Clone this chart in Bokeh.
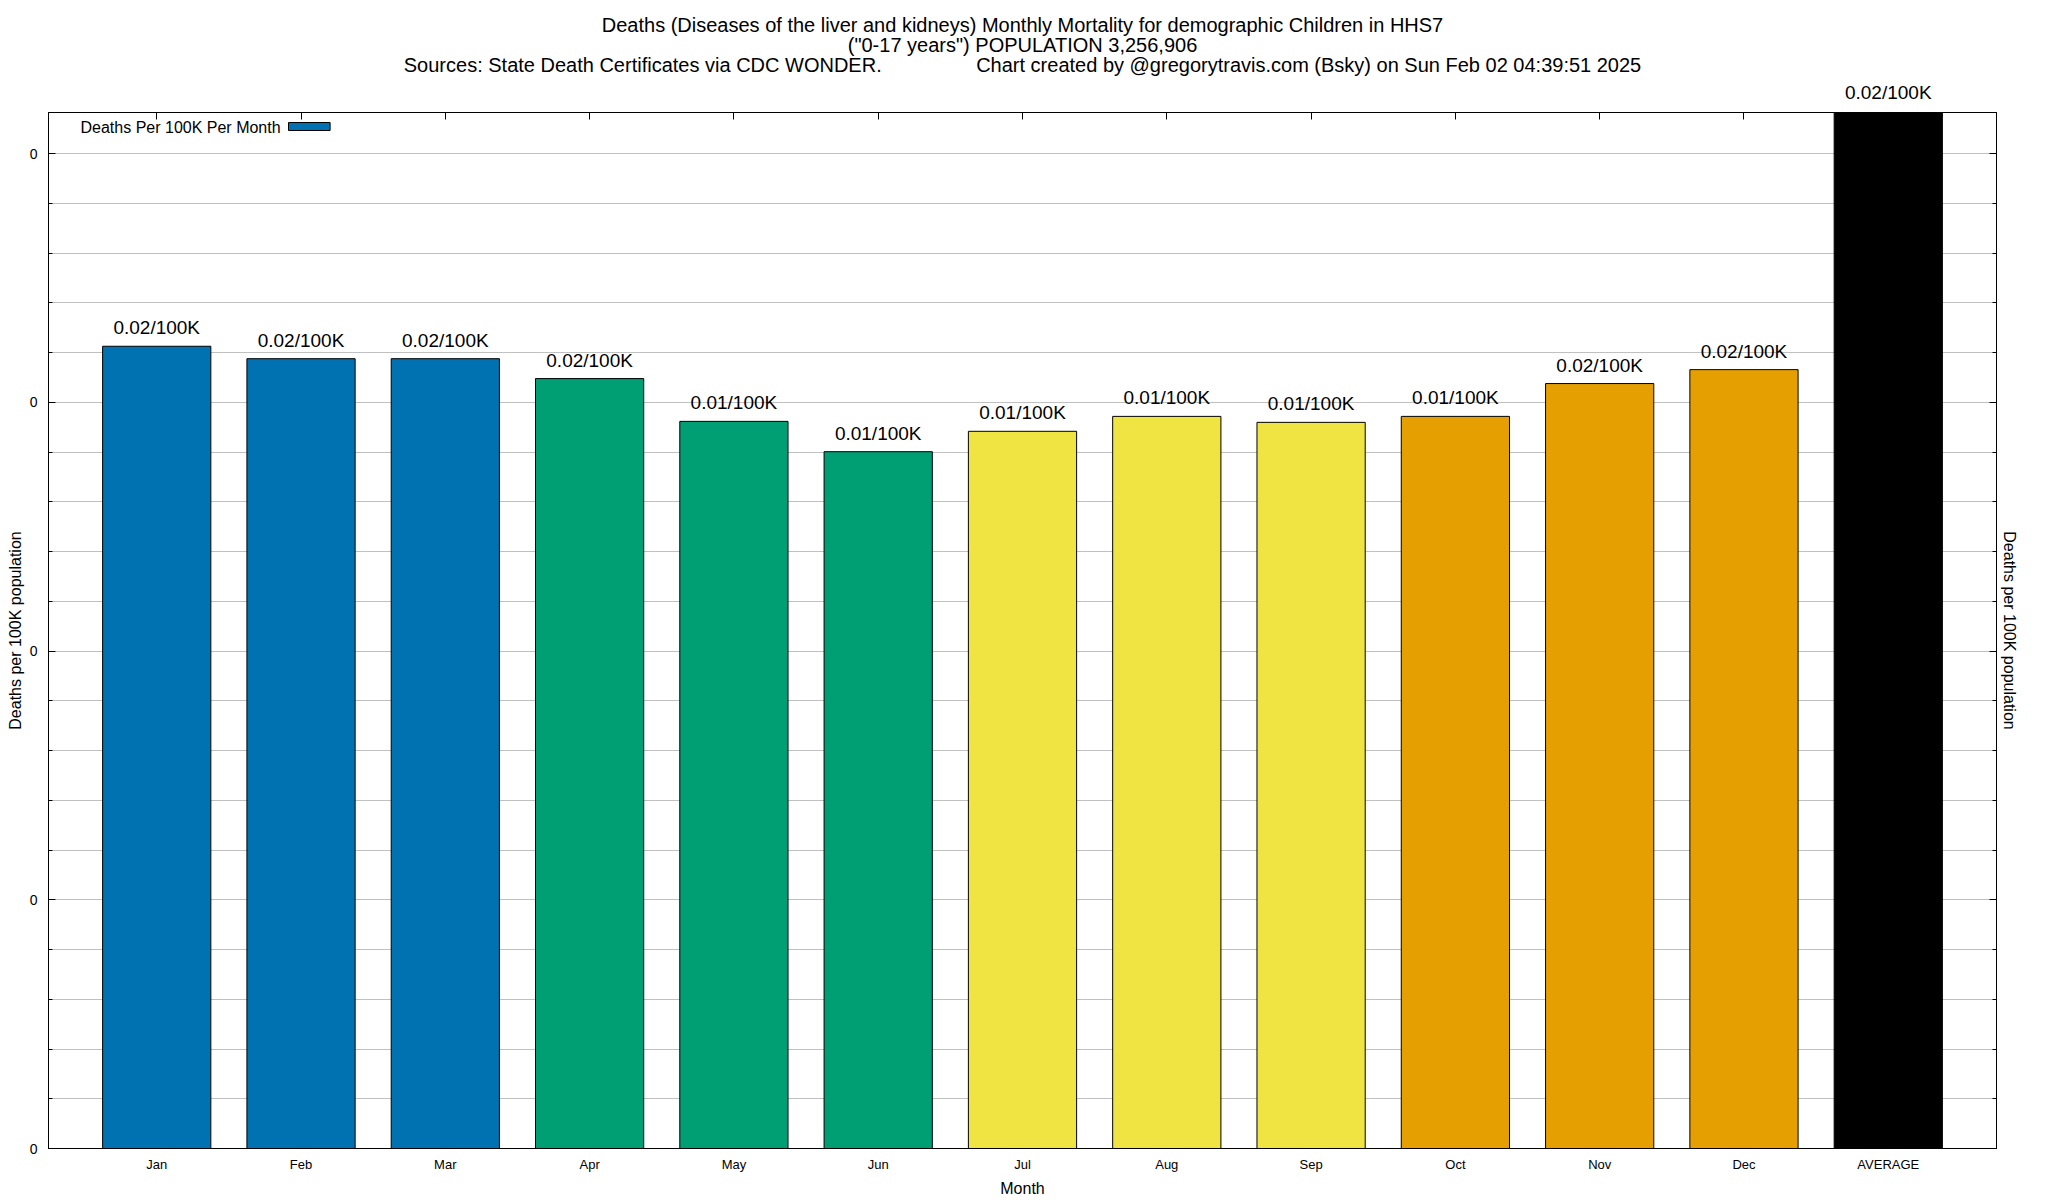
from bokeh.plotting import figure
from bokeh.models import (ColumnDataSource, Range1d, FixedTicker, SingleIntervalTicker,
                          LinearAxis, Title, LabelSet, Label, BoxAnnotation,
                          PrintfTickFormatter, CustomLabelingPolicy)
from bokeh.embed import file_html
from bokeh.resources import INLINE
from bokeh.core.properties import value

# ---------------- data ----------------
title_lines = [
    "Deaths (Diseases of the liver and kidneys) Monthly Mortality for demographic Children in HHS7",
    '("0-17 years") POPULATION 3,256,906',
    "Sources: State Death Certificates via CDC WONDER." + "\u00a0" * 17
    + "Chart created by @gregorytravis.com (Bsky) on Sun Feb 02 04:39:51 2025",
]
months = ["Jan", "Feb", "Mar", "Apr", "May", "Jun", "Jul", "Aug", "Sep", "Oct", "Nov", "Dec", "AVERAGE"]
rates = [0.01613, 0.01588, 0.01588, 0.01548, 0.01462, 0.01401, 0.01442,
         0.01472, 0.01460, 0.01472, 0.01538, 0.01566, 0.02083]
legend_label = "Deaths Per 100K Per Month"
y_label = "Deaths per 100K population"
x_label = "Month"

# ---------------- styles / layout ----------------
FONT = "Liberation Sans"
bar_colors = ["#0072B2"] * 3 + ["#009E73"] * 3 + ["#F0E442"] * 3 + ["#E69F00"] * 3 + ["#000000"]
grid_color = "#c0c0c0"
FRAME_W, FRAME_H = 1948, 1036
X_START, X_END = -0.75, len(months) - 0.25

xs = list(range(len(months)))
value_labels = [f"{r:.2f}/100K" for r in rates]
src = ColumnDataSource(dict(x=xs, rate=rates, color=bar_colors))
month_src = ColumnDataSource(dict(x=xs[:-1], rate=rates[:-1], label=value_labels[:-1]))

p = figure(frame_width=FRAME_W, frame_height=FRAME_H,
           x_range=Range1d(X_START, X_END),
           y_range=Range1d(0, max(rates)),
           output_backend="svg", toolbar_location=None, title_location=None,
           min_border_left=48, min_border_right=52, min_border_top=112, min_border_bottom=52,
           background_fill_color="white", border_fill_color="white")
p.outline_line_color = "black"
p.outline_line_width = 1

# grid
p.xgrid.visible = False
p.ygrid.grid_line_color = grid_color
p.ygrid.minor_grid_line_color = grid_color

# bars
p.vbar(x="x", top="rate", bottom=0, width=0.75, source=src,
       fill_color="color", line_color="black", line_width=1)

# value labels on the monthly bars
p.add_layout(LabelSet(x="x", y="rate", text="label", source=month_src, y_offset=12,
                      text_align="center", text_baseline="alphabetic",
                      text_font=value(FONT), text_font_size="19px", text_color="black"))

no_labels = CustomLabelingPolicy(code="return new Set()")

# bottom axis
xa = p.xaxis[0]
xa.ticker = FixedTicker(ticks=xs)
xa.major_label_overrides = {i: m for i, m in zip(xs, months)}
xa.major_tick_in = 0
xa.major_tick_out = 0
xa.minor_tick_in = 0
xa.minor_tick_out = 0
xa.major_label_standoff = 8
xa.axis_label = x_label
xa.axis_label_standoff = 5
xa.major_label_text_font = FONT
xa.major_label_text_font_size = "13px"
xa.major_label_text_color = "black"
xa.axis_label_text_font = FONT
xa.axis_label_text_font_size = "16px"
xa.axis_label_text_font_style = "normal"
xa.axis_label_text_color = "black"
xa.axis_line_color = "black"

# left axis
ya = p.yaxis[0]
ya.ticker = SingleIntervalTicker(interval=0.005, num_minor_ticks=5)
ya.formatter = PrintfTickFormatter(format="%.0f")
ya.major_tick_in = 7
ya.major_tick_out = 0
ya.minor_tick_in = 4
ya.minor_tick_out = 0
ya.major_label_standoff = 11
ya.axis_label = y_label
ya.axis_label_standoff = 3
ya.major_label_text_font = FONT
ya.major_label_text_font_size = "14px"
ya.major_label_text_color = "black"
ya.axis_label_text_font = FONT
ya.axis_label_text_font_size = "16px"
ya.axis_label_text_font_style = "normal"
ya.axis_label_text_color = "black"
ya.axis_line_color = "black"

# right axis (mirror ticks + title)
ra = LinearAxis(ticker=SingleIntervalTicker(interval=0.005, num_minor_ticks=5),
                major_tick_in=7, major_tick_out=0, minor_tick_in=4, minor_tick_out=0,
                major_label_text_font_size="0px", major_label_standoff=0,
                major_label_policy=no_labels, axis_line_color="black",
                axis_label=y_label, axis_label_standoff=4, axis_label_text_font=FONT,
                axis_label_text_font_size="16px", axis_label_text_font_style="normal",
                axis_label_text_color="black")
p.add_layout(ra, "right")

# top axis (mirror ticks only)
ta = LinearAxis(ticker=FixedTicker(ticks=xs), major_tick_in=7, major_tick_out=0,
                minor_tick_in=0, minor_tick_out=0, major_label_text_font_size="0px",
                major_label_standoff=0, major_label_policy=no_labels,
                axis_line_color="black")
p.add_layout(ta, "above")

# AVERAGE bar value label: it sits above the frame, so it is placed in the top panel
px_per_unit = FRAME_W / (X_END - X_START)
avg_offset = (X_END - xs[-1]) * px_per_unit - 43.3
p.add_layout(Title(text=value_labels[-1], align="right", offset=avg_offset,
                   text_font=FONT, text_font_size="19px", text_font_style="normal",
                   text_color="black", standoff=18.5), "above")

# titles (first added is nearest the frame)
for txt, so in zip(reversed(title_lines), [-10.2, 1.8, -10.2]):
    p.add_layout(Title(text=txt, align="center", text_font=FONT, text_font_size="20px",
                       text_font_style="normal", text_color="black", standoff=so), "above")

# legend (key drawn to the right of its text, as in the original)
p.add_layout(Label(x=32, y=FRAME_H - 15, x_units="screen", y_units="screen", text=legend_label,
                   text_font=FONT, text_font_size="16px", text_color="black",
                   text_baseline="middle"))
p.add_layout(BoxAnnotation(left=240, right=281.6, top=FRAME_H - 10, bottom=FRAME_H - 18,
                           left_units="screen", right_units="screen",
                           top_units="screen", bottom_units="screen",
                           fill_color=bar_colors[0], fill_alpha=1.0,
                           line_color="black", line_width=1, line_alpha=1.0))

open("out.html", "w").write(file_html(p, INLINE))
